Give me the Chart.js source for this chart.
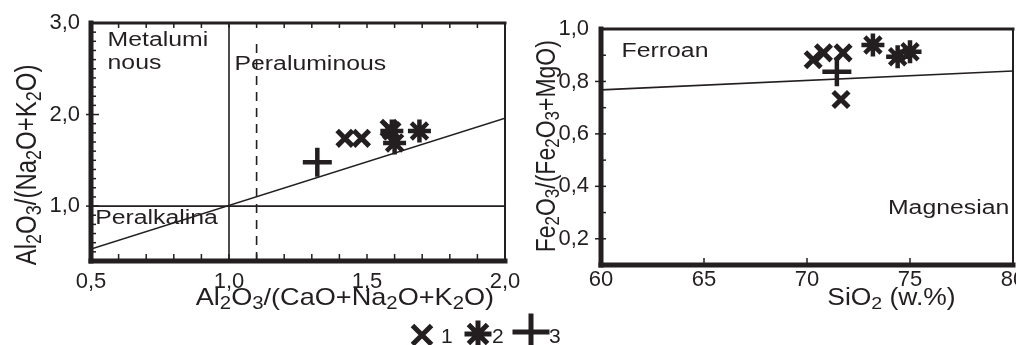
<!DOCTYPE html>
<html lang="en">
<head>
<meta charset="utf-8">
<title>A/NK vs A/CNK and Fe-number vs SiO2</title>
<script src="https://cdn.jsdelivr.net/npm/chart.js@4.4.1/dist/chart.umd.min.js"></script>
<style>
  html, body { margin: 0; padding: 0; background: #fff; }
  body { position: relative; width: 1016px; height: 345px; overflow: hidden; }
  canvas { position: absolute; top: 0; }
  #aluminaChart { left: 0; }
  #ironChart { left: 510px; }
</style>
</head>
<body>
<canvas id="aluminaChart" width="580" height="345"></canvas>
<canvas id="ironChart" width="506" height="312"></canvas>
<script>
// Tick labels
const aluminaXTicks = [0.5, 1.0, 1.5, 2.0];
const aluminaYTicks = [1.0, 2.0, 3.0];
const ironXTicks = [60, 65, 70, 75, 80];
const ironYTicks = [0.2, 0.4, 0.6, 0.8, 1.0];

// A/CNK (x) vs A/NK (y), groups 1-3
const acnk1 = [1.42, 1.48, 1.58];
const ank1 = [1.74, 1.74, 1.85];
const acnk2 = [1.59, 1.60, 1.69];
const ank2 = [1.82, 1.69, 1.82];
const acnk3 = [1.32];
const ank3 = [1.48];

// SiO2 (x) vs Fe2O3/(Fe2O3+MgO) (y), groups 1-3
const silica1 = [70.3, 70.8, 71.75, 71.65];
const feNum1 = [0.883, 0.909, 0.909, 0.731];
const silica2 = [73.2, 74.4, 75.0];
const feNum2 = [0.939, 0.894, 0.913];
const silica3 = [71.45];
const feNum3 = [0.837];

// Field boundaries
const peralkX = [0.5, 2.0], peralkY = [0.53, 1.96];
const metaX = [1.0, 1.0], metaY = [0.4, 3.0];
const dashX = [1.1, 1.1], dashY = [0.4, 2.78];
const ankOneX = [0.5, 2.0], ankOneY = [1.0, 1.0];
const ferroanX = [60, 80], ferroanY = [0.768, 0.84];

const ink = '#231f20';
const family = "'Liberation Sans', Arial, sans-serif";
const tickFont = { family: family, size: 22 };
const fmt = v => v.toFixed(1).replace('.', ',');
const zip = (xs, ys) => xs.map((x, i) => ({ x: x, y: ys[i] }));
const steps = (a, b, s) => Array.from({ length: Math.round((b - a) / s) + 1 }, (_, i) => +(a + i * s).toFixed(2));

const marker = {
    1: { pointStyle: 'crossRot', radius: 11, borderWidth: 5 },
    2: { pointStyle: 'star', radius: 11.5, borderWidth: 4.5 },
    3: { pointStyle: 'cross', radius: 14.5, borderWidth: 4.5 }
};

function points(xs, ys, group) {
    const m = marker[group];
    return {
        data: zip(xs, ys),
        pointStyle: m.pointStyle,
        pointRadius: m.radius,
        pointBorderWidth: m.borderWidth,
        borderColor: ink,
        backgroundColor: ink,
        order: 1
    };
}

function boundary(xs, ys, dash) {
    return {
        data: zip(xs, ys),
        showLine: true,
        borderColor: ink,
        borderWidth: 1.6,
        borderDash: dash || [],
        pointRadius: 0,
        fill: false,
        order: 2
    };
}

function xAxis(min, max, ticks, label, pad, height) {
    return {
        type: 'linear', min: min, max: max,
        grid: { display: false, drawTicks: false },
        border: { display: false },
        ticks: { font: tickFont, color: ink, padding: pad, autoSkip: false, maxRotation: 0, callback: label },
        afterBuildTicks: s => { s.ticks = ticks.map(value => ({ value })); },
        afterFit: s => { s.height = height; s.paddingLeft = 0; s.paddingRight = 0; }
    };
}

function yAxis(min, max, ticks, pad, width) {
    return {
        type: 'linear', min: min, max: max,
        grid: { display: false, drawTicks: false },
        border: { display: false },
        ticks: { font: tickFont, color: ink, padding: pad, autoSkip: false, callback: v => fmt(v) },
        afterBuildTicks: s => { s.ticks = ticks.map(value => ({ value })); },
        afterFit: s => { s.width = width; s.paddingTop = 0; s.paddingBottom = 0; }
    };
}

// Text with chemical subscripts: "Al_2O_3" -> Al₂O₃, drawn on the baseline at the origin
function richText(ctx, str, size, align) {
    const parts = str.split(/_(\d)/);
    const fonts = parts.map((p, i) => (i % 2 ? Math.round(size * 0.74) : size) + 'px ' + family);
    const widths = parts.map((p, i) => { ctx.font = fonts[i]; return ctx.measureText(p).width; });
    const total = widths.reduce((s, w) => s + w, 0);
    let cx = align === 'left' ? 0 : -total / 2;
    ctx.textAlign = 'left';
    ctx.textBaseline = 'alphabetic';
    parts.forEach((p, i) => {
        ctx.font = fonts[i];
        ctx.fillText(p, cx, i % 2 ? size * 0.16 : 0);
        cx += widths[i];
    });
}

function drawLegend(ctx) {
    const drawPoint = Chart.helpers && Chart.helpers.drawPoint;
    const items = [
        { group: 1, x: 422, y: 335, r: 11, label: '1', lx: 441 },
        { group: 2, x: 478, y: 334, r: 11, label: '2', lx: 492 },
        { group: 3, x: 531, y: 332, r: 16, label: '3', lx: 549 }
    ];
    items.forEach(it => {
        ctx.lineWidth = 5;
        drawPoint(ctx, { pointStyle: marker[it.group].pointStyle, radius: it.r, rotation: 0, borderWidth: 5 }, it.x, it.y);
        ctx.font = '21px ' + family;
        ctx.textAlign = 'left';
        ctx.textBaseline = 'alphabetic';
        ctx.fillText(it.label, it.lx, 343);
    });
}

const decor = {
    id: 'decor',
    afterDatasetsDraw(chart, args, o) {
        const ctx = chart.ctx, a = chart.chartArea;
        const xs = chart.scales.x, ys = chart.scales.y;
        ctx.save();
        ctx.strokeStyle = ink;
        ctx.fillStyle = ink;

        // small tick marks, mostly pointing into the plot
        ctx.lineWidth = 1.5;
        o.ticks.forEach(t => {
            t.values.forEach(v => {
                ctx.beginPath();
                if (t.edge === 'left') {
                    const py = ys.getPixelForValue(v);
                    ctx.moveTo(a.left - (t.out || 0), py);
                    ctx.lineTo(a.left + t.in, py);
                } else {
                    const px = xs.getPixelForValue(v);
                    const edge = t.edge === 'top' ? a.top : a.bottom;
                    const dir = t.edge === 'top' ? 1 : -1;
                    ctx.moveTo(px, edge);
                    ctx.lineTo(px, edge + dir * t.in);
                }
                ctx.stroke();
            });
        });

        // frame, heavier on the left and bottom
        const f = o.frame;
        ctx.lineCap = 'square';
        [[a.left, a.top, a.right, a.top, f.top],
         [a.right, a.top, a.right, a.bottom, f.right],
         [a.left, a.bottom, a.right, a.bottom, f.bottom],
         [a.left, a.top, a.left, a.bottom, f.left]].forEach(([x1, y1, x2, y2, w]) => {
            ctx.lineWidth = w;
            ctx.beginPath();
            ctx.moveTo(x1, y1);
            ctx.lineTo(x2, y2);
            ctx.stroke();
        });

        // field names
        o.labels.forEach(l => {
            ctx.save();
            ctx.translate(xs.getPixelForValue(l.x), ys.getPixelForValue(l.y));
            ctx.scale(1.24, 1);
            richText(ctx, l.text, 20, 'left');
            ctx.restore();
        });

        // axis titles
        o.titles.forEach(t => {
            ctx.save();
            if (t.axis === 'x') {
                ctx.translate(xs.getPixelForValue(t.at), a.bottom + t.off);
                ctx.scale(t.stretch, 1);
            } else {
                ctx.translate(a.left - t.off, ys.getPixelForValue(t.at));
                ctx.rotate(-Math.PI / 2);
                ctx.scale(1, t.stretch);
            }
            richText(ctx, t.text, t.size, 'center');
            ctx.restore();
        });

        if (o.legend) drawLegend(ctx);
        ctx.restore();
    }
};

// A/NK vs A/CNK
new Chart(document.getElementById('aluminaChart'), {
    type: 'scatter',
    data: {
        datasets: [
            points(acnk1, ank1, 1),
            points(acnk2, ank2, 2),
            points(acnk3, ank3, 3),
            boundary(peralkX, peralkY),
            boundary(metaX, metaY),
            boundary(dashX, dashY, [9, 7]),
            boundary(ankOneX, ankOneY)
        ]
    },
    options: {
        responsive: false,
        animation: false,
        devicePixelRatio: 1,
        layout: { autoPadding: false, padding: { top: 23, right: 75, left: 0, bottom: 0 } },
        plugins: {
            legend: { display: false },
            tooltip: { enabled: false },
            decor: {
                frame: { left: 5, bottom: 5, top: 3, right: 2 },
                ticks: [
                    { edge: 'left', values: steps(0.5, 2.9, 0.1).filter(v => v % 1 !== 0), in: 5 },
                    { edge: 'left', values: [1, 2], in: 8, out: 5 },
                    { edge: 'bottom', values: steps(0.6, 1.9, 0.1), in: 7 },
                    { edge: 'top', values: steps(0.6, 1.9, 0.1), in: 5 }
                ],
                labels: [
                    { text: 'Metalumi', x: 0.56, y: 2.75 },
                    { text: 'nous', x: 0.56, y: 2.50 },
                    { text: 'Peraluminous', x: 1.02, y: 2.49 },
                    { text: 'Peralkalina', x: 0.515, y: 0.80 }
                ],
                titles: [
                    { axis: 'x', text: 'Al_2O_3/(CaO+Na_2O+K_2O)', at: 1.42, off: 44, size: 24, stretch: 1.13 },
                    { axis: 'y', text: 'Al_2O_3/(Na_2O+K_2O)', at: 1.45, off: 55, size: 24, stretch: 1.22 }
                ],
                legend: true
            }
        },
        scales: {
            x: xAxis(0.5, 2.0, aluminaXTicks, v => fmt(v), 8, 84),
            y: yAxis(0.4, 3.0, aluminaYTicks, 11, 91)
        }
    },
    plugins: [decor]
});

// Fe2O3/(Fe2O3+MgO) vs SiO2
new Chart(document.getElementById('ironChart'), {
    type: 'scatter',
    data: {
        datasets: [
            points(silica1, feNum1, 1),
            points(silica2, feNum2, 2),
            points(silica3, feNum3, 3),
            boundary(ferroanX, ferroanY)
        ]
    },
    options: {
        responsive: false,
        animation: false,
        devicePixelRatio: 1,
        layout: { autoPadding: false, padding: { top: 29, right: 3, left: 0, bottom: 0 } },
        plugins: {
            legend: { display: false },
            tooltip: { enabled: false },
            decor: {
                frame: { left: 5, bottom: 5, top: 3, right: 2 },
                ticks: [
                    { edge: 'left', values: [0.1, 0.3, 0.5, 0.7, 0.9], in: 5 },
                    { edge: 'left', values: [0.2, 0.4, 0.6, 0.8], in: 5, out: 6 },
                    { edge: 'bottom', values: [65, 70, 75], in: 7 }
                ],
                labels: [
                    { text: 'Ferroan', x: 61.0, y: 0.894 },
                    { text: 'Magnesian', x: 73.93, y: 0.295 }
                ],
                titles: [
                    { axis: 'x', text: 'SiO_2 (w.%)', at: 74.1, off: 40, size: 23, stretch: 1.15 },
                    { axis: 'y', text: 'Fe_2O_3/(Fe_2O_3+MgO)', at: 0.553, off: 46, size: 23, stretch: 1.2 }
                ],
                legend: false
            }
        },
        scales: {
            x: xAxis(60, 80, ironXTicks, v => String(v), 2, 47),
            y: yAxis(0.1, 1.0, ironYTicks, 12, 91)
        }
    },
    plugins: [decor]
});
</script>
</body>
</html>
